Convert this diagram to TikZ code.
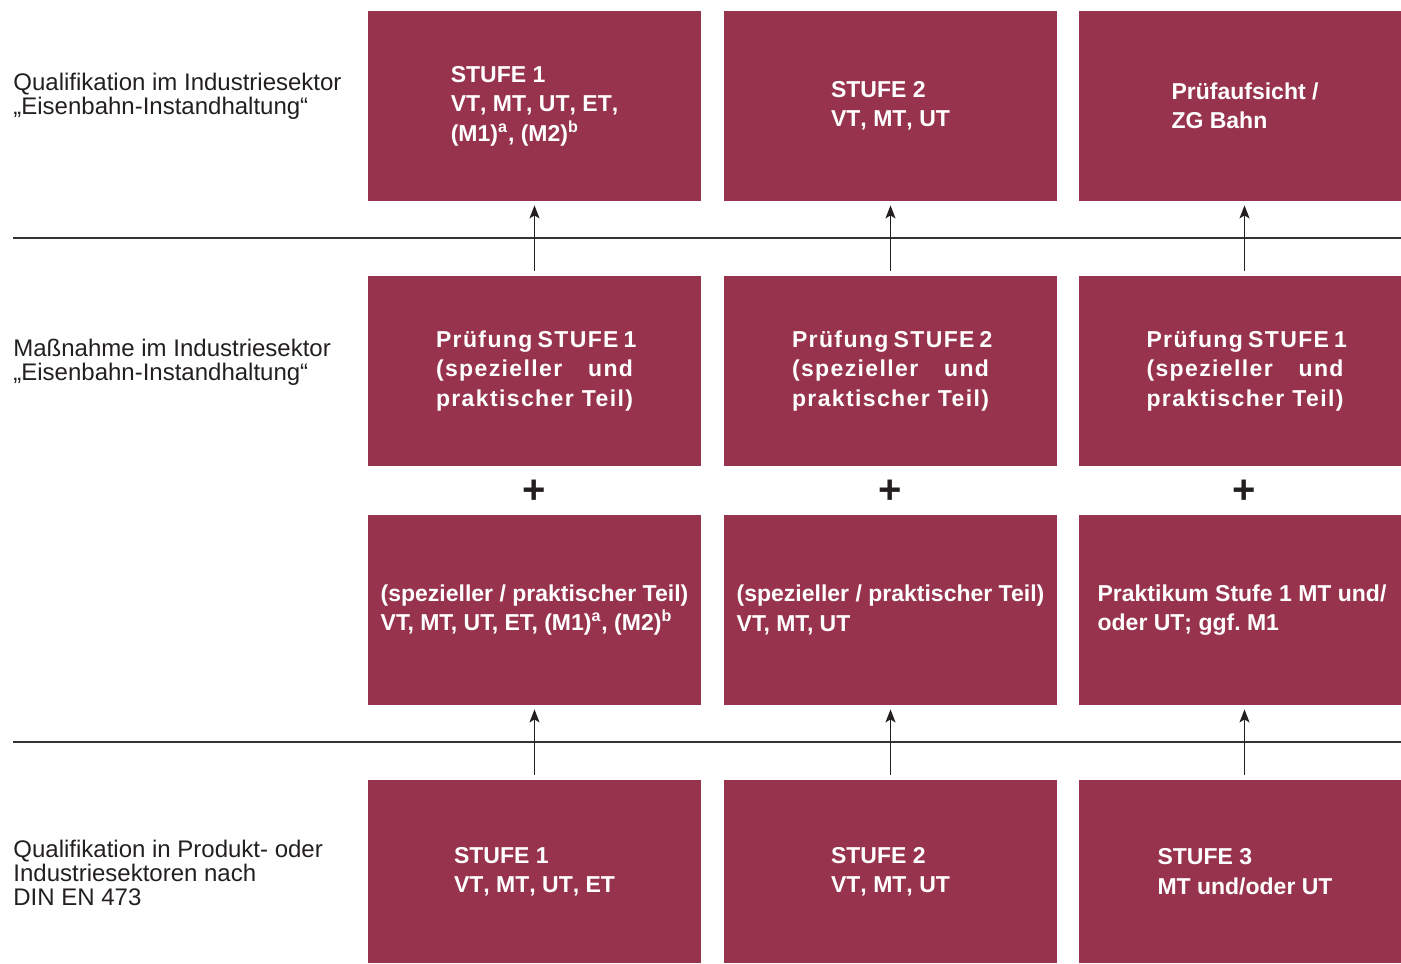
\documentclass[tikz,border=0pt]{standalone}
\usepackage{fontspec}
\setmainfont{Liberation Sans}
\usetikzlibrary{arrows.meta}

\definecolor{bahnrot}{RGB}{151,51,77}
\definecolor{schrift}{RGB}{35,31,32}

\newcommand\CA{534.5}
\newcommand\CB{890.5}
\newcommand\CC{1240}
\newcommand\RA{106}
\newcommand\RB{371}
\newcommand\RC{610}
\newcommand\RD{871.5}
\newcommand\breit[1]{\makebox[98.5pt][s]{\addfontfeature{LetterSpace=6}#1}}

\tikzset{
  stufe/.style={fill=bahnrot, text=white, inner sep=0pt, align=left,
    font=\fontsize{11.5}{14.75}\selectfont\bfseries,
    minimum width=166.5pt, minimum height=95pt},
  offen/.style={font=\fontsize{11.5}{14.75}\selectfont\bfseries\addfontfeature{Kerning=Off}},
  schmal/.style={minimum width=161pt},
  ebene/.style={anchor=west, align=left, text=schrift, inner sep=0pt,
    font=\fontsize{12}{12}\selectfont},
  plus/.style={font=\fontsize{20}{20}\selectfont\bfseries, text=schrift},
  hoch/.style={-{Stealth[length=6.5pt,width=5pt,inset=1.5pt]}, line width=0.7pt, schrift},
  trenn/.style={line width=0.6pt, black!80}
}

\begin{document}
\begin{tikzpicture}[x=0.5pt, y=-0.5pt]
  \useasboundingbox (0,0) rectangle (1401,963);

  %% Trennlinien
  \coordinate (la) at (13,238);  \coordinate (ra) at (1401,238);
  \coordinate (lb) at (13,742);  \coordinate (rb) at (1401,742);
  \draw[trenn] (la) -- (ra);
  \draw[trenn] (lb) -- (rb);

  %% Ebenen links
  \node[ebene] (qual) at (13,96) {Qualifikation im Industriesektor\\„Eisenbahn-Instandhaltung“};
  \node[ebene] (mass) at (13,362) {Maßnahme im Industriesektor\\„Eisenbahn-Instandhaltung“};
  \node[ebene] (norm) at (13,873) {Qualifikation in Produkt- oder\\Industriesektoren nach\\DIN EN 473};

  %% obere Reihe
  \node[stufe, offen] (oben1) at (\CA,\RA) {STUFE 1\\VT, MT, UT, ET,\\(M1)\textsuperscript{a}, (M2)\textsuperscript{b}};
  \node[stufe, offen] (oben2) at (\CB,\RA) {STUFE 2\\VT, MT, UT};
  \node[stufe, offen, schmal] (oben3) at (\CC,\RA) {\hspace*{5pt}Prüfaufsicht /\\\hspace*{5pt}ZG Bahn};

  %% Pruefungen
  \node[stufe] (pruef1) at (\CA,\RB) {\breit{Prüfung STUFE 1}\\\breit{(spezieller und}\\\breit{praktischer Teil)}};
  \node[stufe] (pruef2) at (\CB,\RB) {\breit{Prüfung STUFE 2}\\\breit{(spezieller und}\\\breit{praktischer Teil)}};
  \node[stufe, schmal] (pruef3) at (\CC,\RB) {\hspace*{5pt}\breit{Prüfung STUFE 1}\\\hspace*{5pt}\breit{(spezieller und}\\\hspace*{5pt}\breit{praktischer Teil)}};

  \node[plus] (plus1) at (\CA,492) {+};
  \node[plus] (plus2) at (\CB,492) {+};
  \node[plus] (plus3) at (1244.5,492) {+};

  %% Teile
  \node[stufe] (teil1) at (\CA,\RC) {(spezieller / praktischer Teil)\\VT, MT, UT, ET, (M1)\textsuperscript{a}, (M2)\textsuperscript{b}};
  \node[stufe] (teil2) at (\CB,\RC) {(spezieller / praktischer Teil)\\VT, MT, UT};
  \node[stufe, offen, schmal] (teil3) at (\CC,\RC) {\hspace*{2pt}Praktikum Stufe 1 MT und/\\\hspace*{2pt}oder UT; ggf.\ M1};

  %% untere Reihe
  \node[stufe, offen, minimum height=91.5pt] (unten1) at (\CA,\RD) {STUFE 1\\VT, MT, UT, ET};
  \node[stufe, offen, minimum height=91.5pt] (unten2) at (\CB,\RD) {STUFE 2\\VT, MT, UT};
  \node[stufe, offen, schmal, minimum height=91.5pt] (unten3) at (\CC,\RD) {\hspace*{5pt}STUFE 3\\\hspace*{5pt}MT und/oder UT};

  %% Pfeile
  \draw[hoch, shorten <=2.5pt, shorten >=2pt] (pruef1.north) -- (oben1.south);
  \draw[hoch, shorten <=2.5pt, shorten >=2pt] (pruef2.north) -- (oben2.south);
  \draw[hoch, shorten <=2.5pt, shorten >=2pt] ([xshift=2.25pt]pruef3.north) -- ([xshift=2.25pt]oben3.south);
  \draw[hoch, shorten <=2.5pt, shorten >=2pt] (unten1.north) -- (teil1.south);
  \draw[hoch, shorten <=2.5pt, shorten >=2pt] (unten2.north) -- (teil2.south);
  \draw[hoch, shorten <=2.5pt, shorten >=2pt] ([xshift=2.25pt]unten3.north) -- ([xshift=2.25pt]teil3.south);

\end{tikzpicture}
\end{document}
